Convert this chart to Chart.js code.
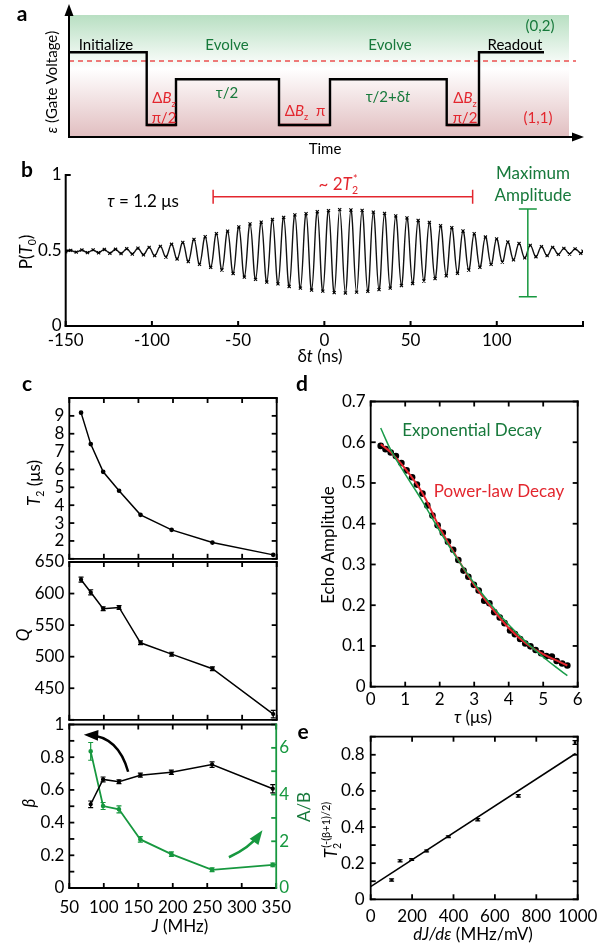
<!DOCTYPE html>
<html>
<head>
<meta charset="utf-8">
<script src="https://cdn.jsdelivr.net/npm/chart.js@4.4.1/dist/chart.umd.min.js"></script>
<style>
  body { margin: 0; background: #fff; width: 611px; height: 945px; position: relative; overflow: hidden; font-family: Lato, sans-serif; }
  canvas { position: absolute; }
  .t { position: absolute; transform: translate(-50%, -50%); white-space: nowrap; font-size: 17px; line-height: 1; color: #000; }
  .r { transform: translate(-50%, -50%) rotate(-90deg); }
  .s { font-size: 15px; }
  .p { font-weight: bold; font-size: 21px; }
  .g { color: #17793b; }
  .red { color: #e3262e; }
  sub, sup { font-size: 0.62em; line-height: 0; }
</style>
</head>
<body>
<canvas id="ca" width="611" height="160" style="left:0;top:0"></canvas>
<canvas id="cb" width="611" height="205" style="left:0;top:160px"></canvas>
<canvas id="cc1" width="300" height="194" style="left:0;top:380px"></canvas>
<canvas id="cc2" width="300" height="190" style="left:0;top:545px"></canvas>
<canvas id="cc3" width="300" height="240" style="left:0;top:705px"></canvas>
<canvas id="cd" width="311" height="320" style="left:300px;top:385px"></canvas>
<canvas id="ce" width="311" height="225" style="left:300px;top:720px"></canvas>

<!-- panel a text -->
<div class="t p" style="left:22px;top:12px">a</div>
<div class="t r s" style="left:51px;top:82px"><i>ε</i> (Gate Voltage)</div>
<div class="t s" style="left:106px;top:44px">Initialize</div>
<div class="t s g" style="left:227px;top:44px">Evolve</div>
<div class="t s g" style="left:390px;top:44px">Evolve</div>
<div class="t s" style="left:515px;top:44px">Readout</div>
<div class="t s g" style="left:540px;top:25px">(0,2)</div>
<div class="t s red" style="left:538px;top:117px">(1,1)</div>
<div class="t s g" style="left:227px;top:92px">τ/2</div>
<div class="t s g" style="left:388px;top:96px">τ/2+δ<i>t</i></div>
<div class="t s red" style="left:164px;top:97px">Δ<i>B</i><sub>z</sub></div>
<div class="t s red" style="left:164px;top:117px">π/2</div>
<div class="t s red" style="left:305px;top:110px">Δ<i>B</i><sub>z</sub>&nbsp; π</div>
<div class="t s red" style="left:465px;top:97px">Δ<i>B</i><sub>z</sub></div>
<div class="t s red" style="left:465px;top:117px">π/2</div>
<div class="t s" style="left:325px;top:148px">Time</div>

<!-- panel b text -->
<div class="t p" style="left:27px;top:168px">b</div>
<div class="t r" style="left:25px;top:252px">P(<i>T</i><sub>0</sub>)</div>
<div class="t" style="left:143px;top:200px"><i>τ</i> = 1.2 μs</div>
<div class="t red" style="left:338px;top:183px">~ 2<i>T</i><sub>2</sub><sup style="margin-left:-5px">*</sup></div>
<div class="t g" style="left:533px;top:172px">Maximum</div>
<div class="t g" style="left:533px;top:194px">Amplitude</div>
<div class="t" style="left:320px;top:355px">δ<i>t</i> (ns)</div>

<!-- panels c, d, e text -->
<div class="t p" style="left:27px;top:382px">c</div>
<div class="t p" style="left:302px;top:382px">d</div>
<div class="t p" style="left:303px;top:730px">e</div>
<div class="t r" style="left:33px;top:483px"><i>T</i><sub>2</sub> (μs)</div>
<div class="t r" style="left:22px;top:635px"><i>Q</i></div>
<div class="t r" style="left:28px;top:803px"><i>β</i></div>
<div class="t r g" style="left:303px;top:807px">A/B</div>
<div class="t" style="left:180px;top:925px"><i>J</i> (MHz)</div>
<div class="t r" style="left:327px;top:545px">Echo Amplitude</div>
<div class="t" style="left:473px;top:716px"><i>τ</i> (μs)</div>
<div class="t g" style="left:472px;top:429px">Exponential Decay</div>
<div class="t red" style="left:499px;top:490px">Power-law Decay</div>
<div class="t r" style="left:330px;top:830px"><i>T</i><sub>2</sub><sup style="margin-left:-5px;font-size:11px">(-(β+1)/2)</sup></div>
<div class="t" style="left:473px;top:933px"><i>dJ/dε</i> (MHz/mV)</div>

<script>
// ---- panel a: pulse sequence (time units, detuning level units)
const pulseT = [0, 77.7, 107, 210, 261, 377.7, 410, 475];
const pulseLevel = [84.7, 12, 57.7, 12, 57.7, 12, 84.7, 84.7];
const rotStart = [77.7, 210, 377.7];
const rotEnd = [107, 261, 410];
const rotLevel = 12;
const boundaryLevel = 76;

// ---- panel b: echo fringes, extrema of P(T0) vs delta t (ns)
const bTime = [-150, -147.1, -143.9, -140.6, -137.4, -134.1, -130.9, -127.6, -124.4, -121.1, -117.9,
  -114.6, -111.4, -108.1, -104.9, -101.6, -98.4, -95.1, -91.9, -88.6, -85.4, -82.1, -78.9, -75.6, -72.4,
  -69.1, -65.9, -62.6, -59.4, -56.1, -52.9, -49.6, -46.4, -43.1, -39.9, -36.6, -33.4, -30.1, -26.9,
  -23.6, -20.4, -17.1, -13.9, -10.6, -7.4, -4.1, -0.9, 2.4, 5.7, 8.9, 12.2, 15.4, 18.7, 21.9, 25.2,
  28.4, 31.7, 34.9, 38.2, 41.4, 44.7, 47.9, 51.2, 54.4, 57.7, 60.9, 64.2, 67.4, 70.7, 73.9, 77.2,
  80.4, 83.7, 86.9, 90.2, 93.4, 96.7, 99.9, 103.2, 106.4, 109.7, 112.9, 116.2, 119.4, 122.7, 125.9,
  129.2, 132.4, 135.7, 138.9, 142.2, 145.4, 148.7, 150];
const bProb = [0.492, 0.501, 0.489, 0.503, 0.486, 0.504, 0.485, 0.507, 0.482, 0.508, 0.480,
  0.512, 0.477, 0.515, 0.472, 0.521, 0.466, 0.527, 0.457, 0.541, 0.444, 0.553, 0.427, 0.574, 0.409,
  0.591, 0.388, 0.612, 0.371, 0.628, 0.348, 0.656, 0.324, 0.676, 0.309, 0.688, 0.291, 0.706, 0.279,
  0.719, 0.262, 0.736, 0.251, 0.744, 0.238, 0.757, 0.231, 0.764, 0.221, 0.771, 0.219, 0.768, 0.224,
  0.766, 0.229, 0.754, 0.241, 0.746, 0.251, 0.729, 0.268, 0.716, 0.281, 0.699, 0.298, 0.686, 0.314,
  0.664, 0.333, 0.651, 0.349, 0.629, 0.371, 0.611, 0.389, 0.589, 0.408, 0.576, 0.424, 0.556, 0.439,
  0.546, 0.451, 0.534, 0.459, 0.526, 0.466, 0.521, 0.474, 0.514, 0.477, 0.511, 0.481, 0.495];

// ---- panel c: vs J (MHz)
const jAll = [67, 81, 99, 122, 153, 198, 257, 345];
const t2 = [9.18, 7.42, 5.87, 4.81, 3.46, 2.62, 1.91, 1.22];
const qVal = [622, 602, 576, 578, 522, 504, 481, 409];
const qErr = [4, 4, 3, 3, 3, 3, 3, 6];
const jBeta = [81, 99, 122, 153, 198, 257, 345];
const betaVal = [0.512, 0.664, 0.650, 0.690, 0.708, 0.755, 0.607];
const betaErr = [0.02, 0.015, 0.012, 0.012, 0.013, 0.017, 0.025];
const abVal = [5.85, 3.51, 3.37, 2.08, 1.45, 0.78, 0.99];
const abErr = [0.38, 0.15, 0.15, 0.12, 0.1, 0.08, 0.08];

// ---- panel d: echo amplitude vs tau (us)
const dTau = [0.29, 0.43, 0.58, 0.73, 0.89, 1.04, 1.20, 1.34, 1.50, 1.64, 1.79, 1.94, 2.09, 2.24, 2.39,
  2.54, 2.69, 2.83, 2.99, 3.13, 3.29, 3.44, 3.58, 3.74, 3.88, 4.04, 4.18, 4.33, 4.48, 4.63, 4.78, 4.94,
  5.09, 5.25, 5.39, 5.55, 5.70];
const dEcho = [0.591, 0.583, 0.575, 0.566, 0.549, 0.531, 0.514, 0.496, 0.474, 0.445, 0.420, 0.396,
  0.378, 0.356, 0.336, 0.311, 0.285, 0.270, 0.250, 0.236, 0.211, 0.205, 0.183, 0.170, 0.156, 0.138,
  0.129, 0.117, 0.106, 0.099, 0.090, 0.082, 0.075, 0.074, 0.063, 0.057, 0.052];
const fitTau = [0.29, 0.6, 1.0, 1.5, 2.0, 2.5, 3.0, 3.5, 4.0, 4.5, 5.0, 5.4, 5.7];
const powerFit = [0.595, 0.574, 0.535, 0.475, 0.390, 0.317, 0.250, 0.194, 0.144, 0.106, 0.080, 0.064, 0.052];
const expFit = [0.635, 0.578, 0.522, 0.455, 0.382, 0.315, 0.254, 0.200, 0.152, 0.110, 0.073, 0.046, 0.027];

// ---- panel e: T2^(-(beta+1)/2) vs dJ/de (MHz/mV)
const eSlope = [101, 142, 198, 270, 375, 517, 713, 987];
const eVal = [0.107, 0.213, 0.220, 0.268, 0.346, 0.440, 0.572, 0.868];
const eErr = [0.006, 0.006, 0.005, 0.005, 0.005, 0.006, 0.007, 0.01];
const eFitX = [0, 990];
const eFitY = [0.07, 0.807];

const GREEN = '#17983f';
const RED = '#e3262e';

Chart.defaults.font.family = 'Lato';
Chart.defaults.font.size = 17;
Chart.defaults.color = '#000';
Chart.defaults.animation = false;
Chart.defaults.responsive = false;
Chart.defaults.plugins.legend.display = false;
Chart.defaults.plugins.tooltip.enabled = false;

const pts = (xs, ys) => xs.map((x, i) => ({ x, y: ys[i] }));

// box lines + inward ticks
const framePlugin = {
  id: 'frame',
  afterDatasetsDraw(chart, args, o) {
    if (!o || !o.sides) return;
    const { ctx, chartArea: a, scales } = chart;
    const s = o.sides, len = o.len || 5;
    const rc = o.rightColor || '#000';
    ctx.save();
    ctx.lineWidth = o.width || 1.8;
    const seg = (x1, y1, x2, y2, c) => {
      ctx.strokeStyle = c; ctx.beginPath(); ctx.moveTo(x1, y1); ctx.lineTo(x2, y2); ctx.stroke();
    };
    scales.x.ticks.forEach(t => {
      const p = scales.x.getPixelForValue(t.value);
      if (s.includes('b')) seg(p, a.bottom, p, a.bottom - len, '#000');
      if (s.includes('t')) seg(p, a.top, p, a.top + len, '#000');
    });
    scales.y.ticks.forEach(t => {
      const p = scales.y.getPixelForValue(t.value);
      if (s.includes('l')) seg(a.left, p, a.left + len, p, '#000');
      if (s.includes('r') && !scales.y2) seg(a.right, p, a.right - len, p, '#000');
    });
    if (scales.y2) scales.y2.ticks.forEach(t => {
      const p = scales.y2.getPixelForValue(t.value);
      seg(a.right, p, a.right - len, p, rc);
    });
    ctx.lineCap = 'square';
    if (s.includes('t')) seg(a.left, a.top, a.right, a.top, '#000');
    if (s.includes('b')) seg(a.left, a.bottom, a.right, a.bottom, '#000');
    if (s.includes('l')) seg(a.left, a.top, a.left, a.bottom, '#000');
    if (s.includes('r')) seg(a.right, a.top, a.right, a.bottom, scales.y2 ? rc : '#000');
    ctx.restore();
  }
};

// vertical error bars from dataset.errors
const errPlugin = {
  id: 'errbars',
  afterDatasetsDraw(chart) {
    const ctx = chart.ctx;
    chart.data.datasets.forEach((ds, i) => {
      if (!ds.errors) return;
      const meta = chart.getDatasetMeta(i);
      const xs = chart.scales[meta.xAxisID], ys = chart.scales[meta.yAxisID];
      ctx.save();
      ctx.strokeStyle = ds.borderColor;
      ctx.lineWidth = 1.2;
      ds.data.forEach((d, j) => {
        const x = xs.getPixelForValue(d.x);
        const y1 = ys.getPixelForValue(d.y - ds.errors[j]);
        const y2 = ys.getPixelForValue(d.y + ds.errors[j]);
        ctx.beginPath();
        ctx.moveTo(x, y1); ctx.lineTo(x, y2);
        ctx.moveTo(x - 2.5, y1); ctx.lineTo(x + 2.5, y1);
        ctx.moveTo(x - 2.5, y2); ctx.lineTo(x + 2.5, y2);
        ctx.stroke();
      });
      ctx.restore();
    });
  }
};

Chart.register(framePlugin, errPlugin);

function arrowHead(ctx, x, y, ang, size) {
  ctx.beginPath();
  ctx.moveTo(x + Math.cos(ang) * size * 0.4, y + Math.sin(ang) * size * 0.4);
  ctx.lineTo(x - Math.cos(ang) * size * 0.8 - Math.sin(ang) * size * 0.45, y - Math.sin(ang) * size * 0.8 + Math.cos(ang) * size * 0.45);
  ctx.lineTo(x - Math.cos(ang) * size * 0.8 + Math.sin(ang) * size * 0.45, y - Math.sin(ang) * size * 0.8 - Math.cos(ang) * size * 0.45);
  ctx.closePath();
  ctx.fill();
}

const plainTicks = { padding: 5, autoSkip: false, maxRotation: 0 };

// ---------- panel a
const seqBackground = {
  id: 'seqBackground',
  beforeDatasetsDraw(chart) {
    const { ctx, chartArea: a, scales: { y } } = chart;
    ctx.save();
    const g = ctx.createLinearGradient(0, a.top, 0, a.bottom);
    g.addColorStop(0, 'rgb(184,223,194)');
    g.addColorStop(0.44, 'rgb(255,255,255)');
    g.addColorStop(1, 'rgb(225,190,192)');
    ctx.fillStyle = g;
    ctx.fillRect(a.left, a.top, a.right - a.left, a.bottom - a.top);
    const yb = y.getPixelForValue(boundaryLevel);
    ctx.strokeStyle = 'rgb(236,80,80)';
    ctx.lineWidth = 1.3;
    ctx.setLineDash([5, 4]);
    ctx.beginPath(); ctx.moveTo(a.left, yb); ctx.lineTo(a.right + 7, yb); ctx.stroke();
    ctx.restore();
  },
  afterDraw(chart) {
    const { ctx, chartArea: a } = chart;
    ctx.save();
    ctx.strokeStyle = '#000'; ctx.fillStyle = '#000'; ctx.lineWidth = 2;
    ctx.beginPath();
    ctx.moveTo(a.left, 10); ctx.lineTo(a.left, a.bottom); ctx.lineTo(a.right + 8, a.bottom);
    ctx.stroke();
    arrowHead(ctx, a.left, 8, -Math.PI / 2, 10);
    arrowHead(ctx, a.right + 11, a.bottom, 0, 10);
    ctx.restore();
  }
};

const rotData = [];
rotStart.forEach((s, i) => {
  rotData.push({ x: s, y: rotLevel }, { x: rotEnd[i], y: rotLevel }, { x: rotEnd[i], y: null });
});

new Chart(document.getElementById('ca'), {
  type: 'line',
  data: {
    datasets: [
      { data: pts(pulseT, pulseLevel), stepped: true, borderColor: '#000', borderWidth: 2.4, pointRadius: 0, borderJoinStyle: 'miter' },
      { data: rotData, borderColor: RED, borderWidth: 2.6, pointRadius: 0, spanGaps: false }
    ]
  },
  options: {
    clip: false,
    layout: { padding: { left: 69, right: 42, top: 15, bottom: 23 } },
    scales: {
      x: { type: 'linear', display: false, min: 0, max: 500 },
      y: { display: false, min: 0, max: 122 }
    }
  },
  plugins: [seqBackground]
});

// ---------- panel b
const bMarks = {
  id: 'bMarks',
  afterDatasetsDraw(chart) {
    const { ctx, scales: { x, y } } = chart;
    ctx.save();
    ctx.lineWidth = 1.5;
    // ~2T2* span
    ctx.strokeStyle = RED;
    const x1 = x.getPixelForValue(-64.5), x2 = x.getPixelForValue(86), yr = y.getPixelForValue(0.856);
    ctx.beginPath();
    ctx.moveTo(x1, yr); ctx.lineTo(x2, yr);
    ctx.moveTo(x1, yr - 7); ctx.lineTo(x1, yr + 7);
    ctx.moveTo(x2, yr - 7); ctx.lineTo(x2, yr + 7);
    ctx.stroke();
    // maximum amplitude bar
    ctx.strokeStyle = GREEN;
    const xg = x.getPixelForValue(118), y1 = y.getPixelForValue(0.775), y2 = y.getPixelForValue(0.194);
    ctx.beginPath();
    ctx.moveTo(xg, y1); ctx.lineTo(xg, y2);
    ctx.moveTo(xg - 9, y1); ctx.lineTo(xg + 9, y1);
    ctx.moveTo(xg - 9, y2); ctx.lineTo(xg + 9, y2);
    ctx.stroke();
    ctx.restore();
  }
};

new Chart(document.getElementById('cb'), {
  type: 'line',
  data: {
    datasets: [{
      data: pts(bTime, bProb), borderColor: '#111', borderWidth: 1.4, tension: 0.4,
      pointStyle: 'crossRot', pointRadius: 2.2, pointBorderWidth: 1.1, pointBorderColor: '#000', pointBackgroundColor: '#000'
    }]
  },
  options: {
    layout: { padding: { top: 15, right: 28 } },
    scales: {
      x: {
        type: 'linear', min: -150, max: 150,
        ticks: { ...plainTicks, stepSize: 50, padding: 4, callback: v => v === 150 ? '' : String(v) },
        grid: { display: false, drawTicks: false }, border: { display: false },
        afterFit: s => { s.height = 39; }
      },
      y: {
        min: 0, max: 1,
        ticks: { ...plainTicks, stepSize: 0.5, padding: 4, callback: v => String(v) },
        grid: { display: false, drawTicks: false }, border: { display: false },
        afterFit: s => { s.width = 65.7; }
      }
    },
    plugins: { frame: { sides: 'lb', len: 5, width: 2 } }
  },
  plugins: [bMarks]
});

// ---------- panel c
const jScale = (h, showLabels) => ({
  type: 'linear', min: 50, max: 350,
  ticks: { ...plainTicks, stepSize: 50, display: showLabels, padding: 9, callback: v => String(v) },
  grid: { display: false, drawTicks: false }, border: { display: false },
  afterFit: s => { s.height = h; }
});

new Chart(document.getElementById('cc1'), {
  type: 'line',
  data: { datasets: [{ data: pts(jAll, t2), borderColor: '#000', borderWidth: 1.5, pointRadius: 1.6, pointBackgroundColor: '#000' }] },
  options: {
    layout: { padding: { top: 18, right: 23.3 } },
    scales: {
      x: jScale(12, false),
      y: {
        min: 1, max: 10,
        ticks: { ...plainTicks, stepSize: 1, callback: v => (v > 1 && v < 10) ? String(v) : '' },
        grid: { display: false, drawTicks: false }, border: { display: false },
        afterFit: s => { s.width = 69.3; }
      }
    },
    plugins: { frame: { sides: 'lbtr' } }
  }
});

new Chart(document.getElementById('cc2'), {
  type: 'line',
  data: { datasets: [{ data: pts(jAll, qVal), errors: qErr, borderColor: '#000', borderWidth: 1.5, pointRadius: 1.4, pointBackgroundColor: '#000' }] },
  options: {
    layout: { padding: { top: 17, right: 23.3 } },
    scales: {
      x: jScale(10.5, false),
      y: {
        min: 400, max: 650,
        ticks: { ...plainTicks, stepSize: 50, callback: v => v > 400 ? String(v) : '' },
        grid: { display: false, drawTicks: false }, border: { display: false },
        afterFit: s => { s.width = 69.3; }
      }
    },
    plugins: { frame: { sides: 'lbtr' } }
  }
});

const cArrows = {
  id: 'cArrows',
  afterDatasetsDraw(chart) {
    const { ctx, scales: { x, y } } = chart;
    const draw = (p, color) => {
      const P = p.map(q => [x.getPixelForValue(q[0]), y.getPixelForValue(q[1])]);
      ctx.save();
      ctx.strokeStyle = color; ctx.fillStyle = color; ctx.lineWidth = 2.5;
      ctx.beginPath(); ctx.moveTo(P[0][0], P[0][1]);
      ctx.quadraticCurveTo(P[1][0], P[1][1], P[2][0], P[2][1]);
      ctx.stroke();
      arrowHead(ctx, P[2][0], P[2][1], Math.atan2(P[2][1] - P[1][1], P[2][0] - P[1][0]), 12);
      ctx.restore();
    };
    draw([[135.3, 0.711], [121.2, 0.927], [78, 0.936]], '#000');
    draw([[281.4, 0.188], [311.4, 0.245], [326, 0.33]], GREEN);
  }
};

new Chart(document.getElementById('cc3'), {
  type: 'line',
  data: {
    datasets: [
      { data: pts(jBeta, betaVal), errors: betaErr, yAxisID: 'y', borderColor: '#000', borderWidth: 1.5, pointRadius: 1.4, pointBackgroundColor: '#000' },
      { data: pts(jBeta, abVal), errors: abErr, yAxisID: 'y2', borderColor: GREEN, borderWidth: 1.8, pointRadius: 1.4, pointBackgroundColor: GREEN }
    ]
  },
  options: {
    layout: { padding: { top: 19.5 } },
    scales: {
      x: jScale(57, true),
      y: {
        min: 0, max: 1,
        ticks: {
          ...plainTicks, stepSize: 0.1,
          callback: v => {
            const k = Math.round(v * 10);
            if (k % 2) return '';
            return k === 0 ? '0' : k === 10 ? '1' : (k / 10).toFixed(1);
          }
        },
        grid: { display: false, drawTicks: false }, border: { display: false },
        afterFit: s => { s.width = 69.3; }
      },
      y2: {
        position: 'right', min: 0, max: 7,
        ticks: { ...plainTicks, stepSize: 1, padding: 3, color: GREEN, callback: v => v % 2 ? '' : String(v) },
        grid: { display: false, drawTicks: false }, border: { display: false },
        afterFit: s => { s.width = 23.3; }
      }
    },
    plugins: { frame: { sides: 'lbtr', rightColor: GREEN } }
  },
  plugins: [cArrows]
});

// ---------- panel d
new Chart(document.getElementById('cd'), {
  type: 'line',
  data: {
    datasets: [
      { data: pts(fitTau, expFit), borderColor: '#1a9c4a', borderWidth: 1.5, pointRadius: 0, tension: 0.4 },
      { data: pts(fitTau, powerFit), borderColor: RED, borderWidth: 2, pointRadius: 0, tension: 0.4 },
      { data: pts(dTau, dEcho), showLine: false, pointRadius: 3.3, pointBackgroundColor: '#000', pointBorderColor: '#000', pointBorderWidth: 0 }
    ]
  },
  options: {
    layout: { padding: { top: 16.5, right: 33.3 } },
    scales: {
      x: {
        type: 'linear', min: 0, max: 6,
        ticks: { ...plainTicks, stepSize: 1, padding: 3, callback: v => String(v) },
        grid: { display: false, drawTicks: false }, border: { display: false },
        afterFit: s => { s.height = 18.3; }
      },
      y: {
        min: 0, max: 0.7,
        ticks: { ...plainTicks, stepSize: 0.1, callback: v => Math.round(v * 10) === 0 ? '0' : v.toFixed(1) },
        grid: { display: false, drawTicks: false }, border: { display: false },
        afterFit: s => { s.width = 70.7; }
      }
    },
    plugins: { frame: { sides: 'lbtr' } }
  }
});

// ---------- panel e
new Chart(document.getElementById('ce'), {
  type: 'line',
  data: {
    datasets: [
      { data: pts(eFitX, eFitY), borderColor: '#000', borderWidth: 1.5, pointRadius: 0 },
      { data: pts(eSlope, eVal), errors: eErr, showLine: false, borderColor: '#000', pointStyle: 'rect', pointRadius: 1.8, pointBackgroundColor: '#000', pointBorderWidth: 0 }
    ]
  },
  options: {
    layout: { padding: { top: 16.7, right: 33.3 } },
    scales: {
      x: {
        type: 'linear', min: 0, max: 1000,
        ticks: { ...plainTicks, stepSize: 200, padding: 7, callback: v => String(v) },
        grid: { display: false, drawTicks: false }, border: { display: false },
        afterFit: s => { s.height = 45.7; }
      },
      y: {
        min: 0, max: 0.9,
        ticks: {
          ...plainTicks, stepSize: 0.1, padding: 6,
          callback: v => {
            const k = Math.round(v * 10);
            if (k % 2) return '';
            return k === 0 ? '0' : (k / 10).toFixed(1);
          }
        },
        grid: { display: false, drawTicks: false }, border: { display: false },
        afterFit: s => { s.width = 70.7; }
      }
    },
    plugins: { frame: { sides: 'lbtr' } }
  }
});
</script>
</body>
</html>
